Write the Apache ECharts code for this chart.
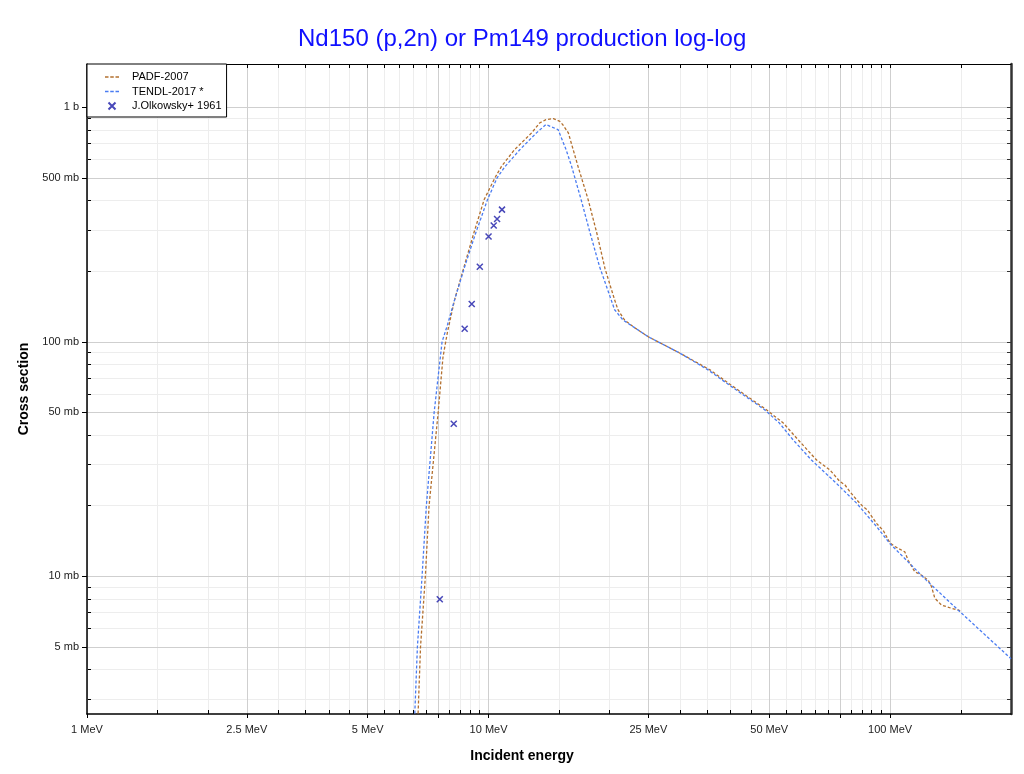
<!DOCTYPE html>
<html>
<head>
<meta charset="utf-8">
<script src="https://cdn.jsdelivr.net/npm/echarts@6.0.0/dist/echarts.min.js"></script>
<style>
html, body { margin: 0; padding: 0; background: #fff; }
#chart { width: 1024px; height: 774px; }
</style>
</head>
<body>
<div id="chart"></div>
<script>
// PADF-2007 : energy (MeV) / cross section (mb)
var padf_e = [6.5, 6.6, 6.675, 6.77, 6.96, 7.11, 7.49, 7.7, 7.9, 8.23, 8.69, 9.19, 9.75, 10.37, 10.77, 11.6, 12.8, 13.4, 13.9, 14.5, 15.05, 15.3, 15.8, 16.7, 17.7, 18.6, 19.5, 20.6, 21.0, 21.8, 22.9, 25.0, 29.9, 35.6, 39.5, 44, 49.2, 54.2, 59.0, 65.6, 70.8, 74.9, 77.2, 79.4, 82.5, 85.4, 87.7, 92.5, 96.3, 99.8, 102.7, 108.8, 110.9, 115.2, 119.8, 124.5, 126.8, 129.2, 134.2, 142.2, 147.6, 150];
var padf_xs = [0.8, 1.5, 2.585, 5, 10, 20, 50, 86, 110, 151, 209, 291, 404, 500, 560, 659, 778, 857, 886, 895, 871, 844, 778, 560, 404, 291, 205, 151, 137, 124, 116, 105, 89.6, 75.9, 66.7, 58.6, 51.3, 45, 38.2, 31.3, 28.4, 25.4, 24.5, 22.96, 21.2, 19.9, 19.2, 16.8, 15.6, 13.9, 13.4, 12.7, 11.7, 10.45, 10.1, 9.6, 9.03, 8.06, 7.54, 7.30, 7.18, 7.1];

// TENDL-2017
var tendl_e = [6.4, 6.5, 6.55, 6.65, 6.83, 7.0, 7.32, 7.66, 7.9, 8.23, 8.72, 9.29, 9.94, 10.5, 11.0, 11.96, 13.16, 13.9, 14.9, 15.6, 16.1, 17.0, 17.9, 18.9, 20.2, 20.6, 21.6, 22.9, 25.0, 29.9, 35.2, 39.1, 48.7, 53, 57.3, 63.7, 73.5, 82.5, 92.5, 99.8, 123.2, 147.6, 200];
var tendl_xs = [0.8, 1.5, 2.585, 5, 10, 20, 50, 100, 118, 151, 209, 291, 404, 500, 560, 659, 778, 844, 803, 659, 560, 404, 291, 209, 151, 137, 124, 116, 105, 89.6, 75.9, 66.7, 51.3, 45, 38.2, 31.3, 24.9, 20.5, 16.3, 13.8, 9.6, 7.18, 4.45];

// J.Olkowsky+ 1961
var olk_e = [7.56, 8.19, 8.72, 9.08, 9.51, 10.0, 10.3, 10.5, 10.8];
var olk_xs = [7.98, 44.7, 113.7, 145, 209, 281, 313, 334, 366];

// ticks
var x_labels = [1, 2.5, 5, 10, 25, 50, 100];
var x_major = [1, 2.5, 5, 7.5, 10, 25, 50, 75, 100];
var x_minor = [1.5, 2, 3, 3.5, 4, 4.5, 5.5, 6, 6.5, 7, 8, 8.5, 9, 9.5, 15, 20, 30, 35, 40, 45, 55, 60, 65, 70, 80, 85, 90, 95, 150];
var y_major = [5, 10, 50, 100, 500, 1000];
var y_minor = [3, 4, 6, 7, 8, 9, 20, 30, 40, 60, 70, 80, 90, 200, 300, 400, 600, 700, 800, 900];

var x_range = [1, 200];
var y_range = [2.585, 1530];

function lg(v) { return Math.log10(v); }
function pairs(xs, ys) {
    return xs.map(function (x, i) { return [lg(x), lg(ys[i])]; });
}
function unlog(v) {
    return String(Math.round(Math.pow(10, v) * 1000) / 1000);
}

var dash_icon = 'path://M0,0h4v1.6h-4zM6,0h4v1.6h-4zM12,0h4v1.6h-4z';

var chart = echarts.init(document.getElementById('chart'));

var xBase = { type: 'value', min: lg(x_range[0]), max: lg(x_range[1]) };
var yBase = { type: 'value', min: lg(y_range[0]), max: lg(y_range[1]) };

var option = {
    animation: false,
    backgroundColor: '#fff',
    textStyle: { fontFamily: 'Liberation Sans, Arial, sans-serif' },
    title: {
        text: 'Nd150 (p,2n) or Pm149 production log-log',
        left: 293,
        top: 22,
        textStyle: { fontSize: 24, fontWeight: 'normal', color: '#1010ff' }
    },
    grid: { left: 87, right: 13, top: 64, bottom: 60 },
    legend: {
        orient: 'vertical',
        left: 87,
        top: 64,
        backgroundColor: '#fff',
        borderColor: '#000',
        borderWidth: 1,
        borderRadius: 0,
        padding: [7, 5, 5, 18],
        itemGap: 2.5,
        itemWidth: 14,
        itemHeight: 7,
        textStyle: { fontSize: 11, color: '#000', lineHeight: 12, padding: [0, 0, 0, 8] },
        data: [
            { name: 'PADF-2007', icon: dash_icon, itemStyle: { borderWidth: 0 } },
            { name: 'TENDL-2017 *', icon: dash_icon, itemStyle: { borderWidth: 0 } },
            { name: 'J.Olkowsky+ 1961' }
        ]
    },
    xAxis: [
        Object.assign({}, xBase, {
            position: 'bottom',
            z: 1,
            name: 'Incident energy',
            nameLocation: 'middle',
            nameGap: 35,
            nameTextStyle: { fontSize: 14, fontWeight: 'bold', color: '#000', padding: [0, 54, 0, 0] },
            axisLine: { show: true, onZero: false, lineStyle: { color: '#000', width: 1.5 } },
            axisTick: { show: true, inside: false, length: 4, customValues: x_major.map(lg), lineStyle: { color: '#000' } },
            axisLabel: {
                customValues: x_labels.map(lg),
                formatter: function (v) { return unlog(v) + ' MeV'; },
                fontSize: 11, color: '#222', margin: 10
            },
            splitLine: { show: true, lineStyle: { color: '#cfcfcf', width: 1 } }
        }),
        Object.assign({}, xBase, {
            position: 'bottom',
            z: 0,
            axisLine: { show: false, onZero: false },
            axisTick: { show: true, inside: true, length: 4, customValues: x_minor.concat(x_major).map(lg), lineStyle: { color: '#000' } },
            axisLabel: { show: false },
            splitLine: { show: true, lineStyle: { color: '#ededed', width: 1 } }
        }),
        Object.assign({}, xBase, {
            position: 'top',
            z: 1,
            axisLine: { show: true, onZero: false, lineStyle: { color: '#000', width: 1 } },
            axisTick: { show: true, inside: true, length: 4, customValues: x_minor.concat(x_major).map(lg), lineStyle: { color: '#000' } },
            axisLabel: { show: false },
            splitLine: { show: false }
        })
    ],
    yAxis: [
        Object.assign({}, yBase, {
            position: 'left',
            z: 1,
            name: 'Cross section',
            nameLocation: 'middle',
            nameGap: 55,
            nameRotate: 90,
            nameTextStyle: { fontSize: 14, fontWeight: 'bold', color: '#000' },
            axisLine: { show: true, onZero: false, lineStyle: { color: '#000', width: 1.5 } },
            axisTick: { show: true, inside: false, length: 5, customValues: y_major.map(lg), lineStyle: { color: '#000' } },
            axisLabel: {
                customValues: y_major.map(lg),
                formatter: function (v) {
                    var n = Number(unlog(v));
                    return n >= 1000 ? (n / 1000) + ' b' : n + ' mb';
                },
                fontSize: 11, color: '#222', margin: 8
            },
            splitLine: { show: true, lineStyle: { color: '#cfcfcf', width: 1 } }
        }),
        Object.assign({}, yBase, {
            position: 'left',
            z: 0,
            axisLine: { show: false, onZero: false },
            axisTick: { show: true, inside: true, length: 4, customValues: y_minor.map(lg), lineStyle: { color: '#000' } },
            axisLabel: { show: false },
            splitLine: { show: true, lineStyle: { color: '#ededed', width: 1 } }
        }),
        Object.assign({}, yBase, {
            position: 'right',
            z: 1,
            axisLine: { show: true, onZero: false, lineStyle: { color: '#333', width: 2.5 } },
            axisTick: { show: true, inside: true, length: 4, customValues: y_minor.concat(y_major).map(lg), lineStyle: { color: '#333' } },
            axisLabel: { show: false },
            splitLine: { show: false }
        })
    ],
    series: [
        {
            name: 'PADF-2007',
            type: 'line',
            xAxisIndex: 0, yAxisIndex: 0,
            data: pairs(padf_e, padf_xs),
            symbol: 'none',
            z: 3,
            lineStyle: { color: '#b3702f', width: 1.3, type: [3, 2] },
            itemStyle: { color: '#b3702f' }
        },
        {
            name: 'TENDL-2017 *',
            type: 'line',
            xAxisIndex: 0, yAxisIndex: 0,
            data: pairs(tendl_e, tendl_xs),
            symbol: 'none',
            z: 3,
            lineStyle: { color: '#4a7cf2', width: 1.3, type: [3, 2] },
            itemStyle: { color: '#4a7cf2' }
        },
        {
            name: 'J.Olkowsky+ 1961',
            type: 'scatter',
            xAxisIndex: 0, yAxisIndex: 0,
            data: pairs(olk_e, olk_xs),
            symbol: 'path://M0,0L10,10M10,0L0,10',
            symbolSize: 6,
            symbolKeepAspect: true,
            z: 4,
            itemStyle: { color: 'rgba(0,0,0,0)', borderColor: '#1a1aa8', borderWidth: 1.5 }
        }
    ]
};

chart.setOption(option);
</script>
</body>
</html>
